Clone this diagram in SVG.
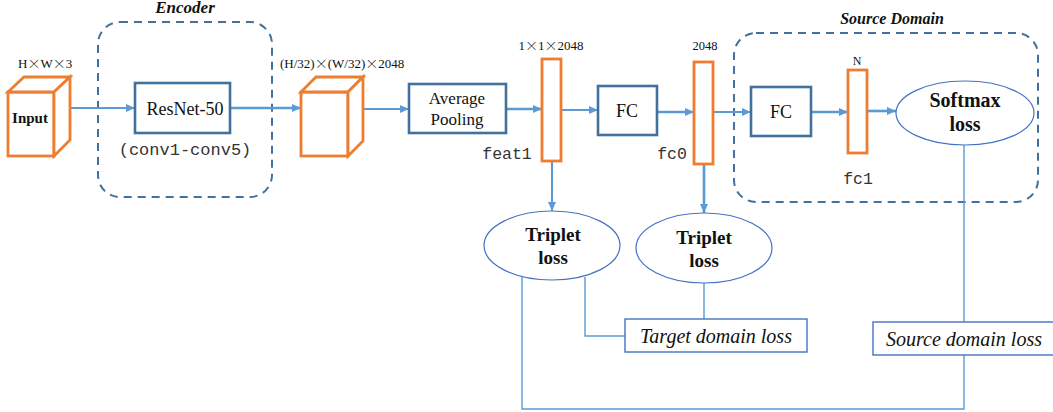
<svg xmlns="http://www.w3.org/2000/svg" width="1053" height="412" viewBox="0 0 1053 412">
<style>
.bg{fill:#fff}
.org{fill:#fff;stroke:#ED7D31;stroke-width:2.8;stroke-linejoin:miter}
.blk{fill:#fff;stroke:#41719C;stroke-width:2.6}
.ell{fill:#fff;stroke:#4472C4;stroke-width:1.2}
.lbox{fill:#fff;stroke:#4472C4;stroke-width:1.4}
.dash{fill:none;stroke:#41719C;stroke-width:2;stroke-dasharray:8,6}
.arr{fill:none;stroke:#5B9BD5;stroke-width:2;marker-end:url(#ah)}
.ln{fill:none;stroke:#5B9BD5;stroke-width:1.4}
.serif{font-family:"Liberation Serif","Times New Roman",serif;fill:#111}
.mono{font-family:"Liberation Mono","Courier New",monospace;fill:#333}
.x{font-family:"Noto Sans CJK SC","Liberation Serif",sans-serif;font-weight:300}
.b{font-weight:bold}
.i{font-style:italic}
</style>
<defs>
<marker id="ah" markerUnits="userSpaceOnUse" markerWidth="9" markerHeight="8" refX="9" refY="4" orient="auto">
<path d="M0,0 L9,4 L0,8 z" fill="#5B9BD5"/>
</marker>
</defs>
<rect class="bg" x="0" y="0" width="1053" height="412"/>

<g id="encoder-group">
<rect class="dash" x="98" y="22" width="174" height="175" rx="22"/>
<text class="serif b i" x="185" y="13" font-size="17" text-anchor="middle">Encoder</text>
</g>
<g id="source-domain-group">
<rect class="dash" x="734" y="33" width="304" height="169" rx="22"/>
<text class="serif b i" x="892" y="24" font-size="16" text-anchor="middle">Source Domain</text>
</g>

<g id="connectors">
<path class="arr" d="M70,108 H135"/>
<path class="arr" d="M230,108 H301" style="stroke-width:2.6"/>
<path class="arr" d="M363,109 H409"/>
<path class="arr" d="M506,109 H542" style="stroke-width:2.6"/>
<path class="arr" d="M562,110 H598"/>
<path class="arr" d="M657,112 H694" style="stroke-width:2.6"/>
<path class="arr" d="M713,112 H751"/>
<path class="arr" d="M811,112 H848" style="stroke-width:2.6"/>
<path class="arr" d="M867,111 H896" style="stroke-width:2.6"/>
<path class="arr" d="M552,161 V211"/>
<path class="arr" d="M704,164 V213" style="stroke-width:2.6"/>
<path class="ln" d="M522,277 V409 H964 V355"/>
<path class="ln" d="M585,277 V336 H625"/>
<path class="ln" d="M704,283 V319"/>
<path class="ln" d="M964,145 V322"/>
</g>

<g id="input">
<rect class="org" x="8" y="92" width="46" height="64"/>
<polygon class="org" points="8,92 24,77 70,77 54,92"/>
<polygon class="org" points="54,92 70,77 70,140 54,156"/>
<text class="serif b" x="30" y="123" font-size="15" text-anchor="middle">Input</text>
<text class="serif" x="18" y="68" font-size="13">H<tspan class="x">×</tspan>W<tspan class="x">×</tspan>3</text>
</g>

<g id="resnet50">
<rect class="blk" x="135" y="83" width="95" height="50"/>
<text class="serif" x="185" y="115" font-size="18" text-anchor="middle">ResNet-50</text>
<text class="mono" x="185" y="155" font-size="17" text-anchor="middle">(conv1-conv5)</text>
</g>

<g id="feature-map">
<rect class="org" x="301" y="92" width="47" height="64"/>
<polygon class="org" points="301,92 316,77 363,77 348,92"/>
<polygon class="org" points="348,92 363,77 363,141 348,156"/>
<text class="serif" x="280" y="68" font-size="13">(H/32)<tspan class="x">×</tspan>(W/32)<tspan class="x">×</tspan>2048</text>
</g>

<g id="average-pooling">
<rect class="blk" x="409" y="84" width="97" height="49"/>
<text class="serif" x="457" y="104" font-size="17" text-anchor="middle">Average</text>
<text class="serif" x="457" y="125" font-size="17" text-anchor="middle">Pooling</text>
</g>

<g id="feat1">
<rect class="org" x="542" y="59" width="19" height="102"/>
<text class="serif" x="551" y="50" font-size="13" text-anchor="middle">1<tspan class="x">×</tspan>1<tspan class="x">×</tspan>2048</text>
<text class="mono" x="507" y="159" font-size="16.5" text-anchor="middle">feat1</text>
</g>

<g id="fc-a">
<rect class="blk" x="598" y="86" width="59" height="49"/>
<text class="serif" x="627" y="117" font-size="18" text-anchor="middle">FC</text>
</g>

<g id="fc0">
<rect class="org" x="694" y="62" width="19" height="102"/>
<text class="serif" x="705" y="50" font-size="12.5" text-anchor="middle">2048</text>
<text class="mono" x="672" y="159" font-size="16.5" text-anchor="middle">fc0</text>
</g>

<g id="fc-b">
<rect class="blk" x="751" y="87" width="60" height="49"/>
<text class="serif" x="781" y="118" font-size="18" text-anchor="middle">FC</text>
</g>

<g id="fc1">
<rect class="org" x="848" y="70" width="19" height="83"/>
<text class="serif" x="857" y="65" font-size="12" text-anchor="middle">N</text>
<text class="mono" x="858" y="184" font-size="16.5" text-anchor="middle">fc1</text>
</g>

<g id="softmax-loss">
<ellipse class="ell" cx="965" cy="113" rx="69" ry="32"/>
<text class="serif b" x="965" y="107" font-size="20" text-anchor="middle">Softmax</text>
<text class="serif b" x="965" y="131" font-size="20" text-anchor="middle">loss</text>
</g>

<g id="triplet-loss-1">
<ellipse class="ell" cx="552" cy="245.5" rx="68" ry="34.5"/>
<text class="serif b" x="553" y="241" font-size="19" text-anchor="middle">Triplet</text>
<text class="serif b" x="553" y="264" font-size="19" text-anchor="middle">loss</text>
</g>

<g id="triplet-loss-2">
<ellipse class="ell" cx="704" cy="248" rx="68" ry="35"/>
<text class="serif b" x="704" y="244" font-size="19" text-anchor="middle">Triplet</text>
<text class="serif b" x="704" y="267" font-size="19" text-anchor="middle">loss</text>
</g>

<g id="target-domain-loss">
<rect class="lbox" x="625" y="319" width="182" height="33"/>
<text class="serif i" x="716" y="343" font-size="20" text-anchor="middle">Target domain loss</text>
</g>

<g id="source-domain-loss">
<rect class="lbox" x="873" y="322" width="185" height="33"/>
<text class="serif i" x="964" y="346" font-size="20" text-anchor="middle">Source domain loss</text>
</g>
</svg>
